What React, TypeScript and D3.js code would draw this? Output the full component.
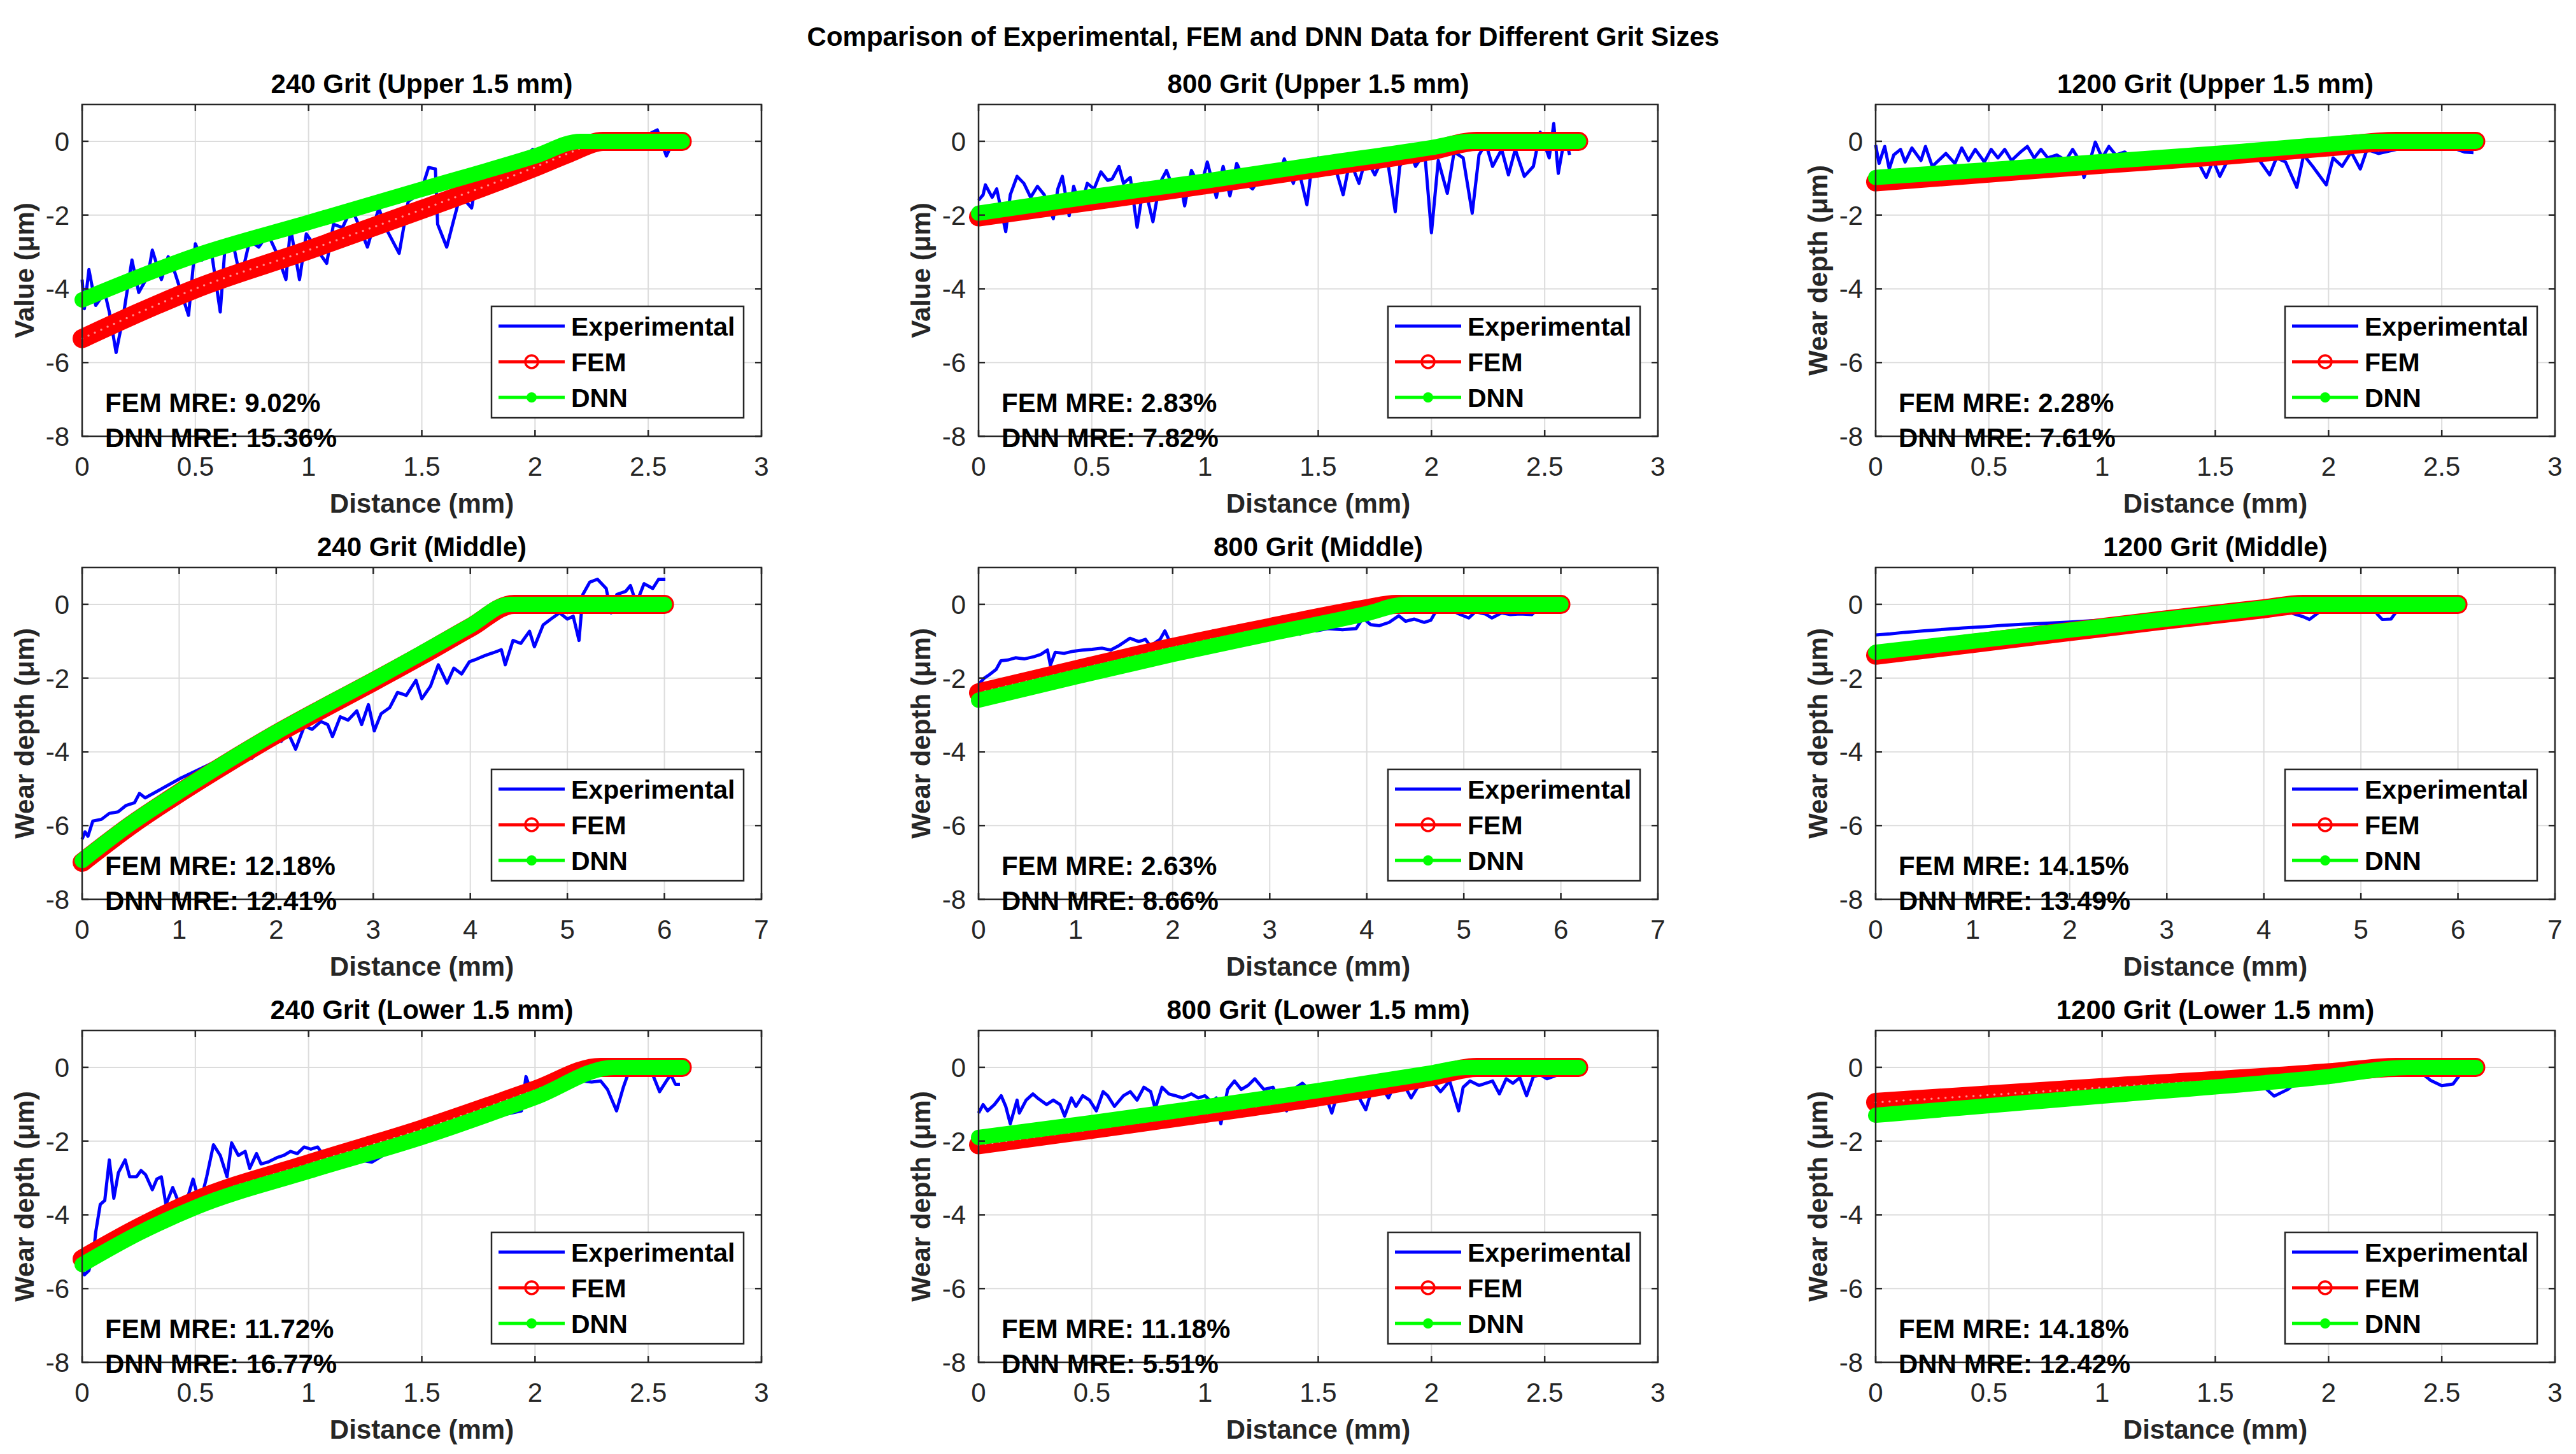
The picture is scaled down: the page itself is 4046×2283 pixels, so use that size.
import * as d3 from 'd3'

type Pt = [number, number]

const FIG_TITLE = 'Comparison of Experimental, FEM and DNN Data for Different Grit Sizes'

const panelTitles = [
  '240 Grit (Upper 1.5 mm)', '800 Grit (Upper 1.5 mm)', '1200 Grit (Upper 1.5 mm)',
  '240 Grit (Middle)', '800 Grit (Middle)', '1200 Grit (Middle)',
  '240 Grit (Lower 1.5 mm)', '800 Grit (Lower 1.5 mm)', '1200 Grit (Lower 1.5 mm)',
]
const yLabels = [
  'Value (μm)', 'Value (μm)', 'Wear depth (μm)',
  'Wear depth (μm)', 'Wear depth (μm)', 'Wear depth (μm)',
  'Wear depth (μm)', 'Wear depth (μm)', 'Wear depth (μm)',
]
const femMre = ['9.02', '2.83', '2.28', '12.18', '2.63', '14.15', '11.72', '11.18', '14.18']
const dnnMre = ['15.36', '7.82', '7.61', '12.41', '8.66', '13.49', '16.77', '5.51', '12.42']
const xMax = [3, 3, 3, 7, 7, 7, 3, 3, 3]
const xTicksShort = [0, 0.5, 1, 1.5, 2, 2.5, 3]
const xTicksLong = [0, 1, 2, 3, 4, 5, 6, 7]
const yTicks = [-8, -6, -4, -2, 0]
const legendNames = ['Experimental', 'FEM', 'DNN']

// ---- 240 grit, upper
const exp240U: Pt[] = [
  [0, -3.75], [0.01, -4.54], [0.03, -3.48], [0.06, -4.45], [0.1, -4.1], [0.12, -4.63], [0.15, -5.73],
  [0.18, -4.8], [0.22, -3.22], [0.25, -4.1], [0.29, -3.66], [0.31, -2.95], [0.35, -3.75], [0.38, -3.13],
  [0.41, -3.57], [0.47, -4.72], [0.5, -2.78], [0.53, -3.22], [0.57, -2.95], [0.61, -4.63], [0.63, -2.95],
  [0.67, -2.87], [0.7, -3.75], [0.74, -2.69], [0.78, -2.87], [0.82, -2.51], [0.86, -3.04], [0.9, -3.75],
  [0.92, -2.34], [0.96, -3.75], [0.99, -2.51], [1.03, -2.87], [1.08, -3.31], [1.11, -2.25], [1.15, -2.34],
  [1.19, -1.81], [1.22, -2.25], [1.26, -2.87], [1.31, -1.81], [1.34, -2.34], [1.4, -3.04], [1.44, -1.63],
  [1.48, -1.46], [1.51, -1.1], [1.53, -0.71], [1.56, -0.75], [1.57, -2.25], [1.61, -2.87], [1.64, -2.16],
  [1.67, -1.46], [1.72, -1.81], [1.74, -1.1], [1.78, -1.37], [1.83, -0.93], [1.88, -0.75], [1.93, -0.57],
  [1.99, -0.22], [2.04, -0.31], [2.08, -0.13], [2.16, -0.22], [2.23, -0.18], [2.3, -0.09], [2.37, -0.04],
  [2.45, 0.04], [2.51, 0.22], [2.54, 0.31], [2.58, -0.4], [2.6, -0.13], [2.64, -0.04],
]
const fem240U: Pt[] = [[0, -5.35], [0.25, -4.65], [0.5, -4.0], [1, -2.95], [1.5, -1.85], [2, -0.7], [2.15, -0.32], [2.3, 0], [2.65, 0]]
const dnn240U: Pt[] = [[0, -4.3], [0.5, -3.1], [1, -2.2], [1.5, -1.3], [2, -0.4], [2.2, 0], [2.65, 0]]

// ---- 800 grit, upper
const exp800U: Pt[] = [
  [0, -1.6], [0.02, -1.45], [0.03, -1.18], [0.06, -1.52], [0.08, -1.29], [0.12, -2.45], [0.14, -1.45],
  [0.17, -0.95], [0.2, -1.14], [0.23, -1.52], [0.26, -1.22], [0.29, -1.45], [0.33, -2.1], [0.35, -1.29],
  [0.37, -0.95], [0.4, -2.02], [0.42, -1.22], [0.45, -1.83], [0.48, -1.14], [0.51, -1.29], [0.54, -0.83],
  [0.57, -1.06], [0.59, -1.02], [0.62, -0.68], [0.64, -1.14], [0.67, -0.98], [0.7, -2.33], [0.73, -1.14],
  [0.77, -2.18], [0.8, -1.14], [0.83, -0.79], [0.86, -1.29], [0.89, -1.06], [0.91, -1.75], [0.94, -0.79],
  [0.98, -1.29], [1.01, -0.56], [1.05, -1.52], [1.08, -0.68], [1.11, -1.48], [1.14, -0.6], [1.18, -1.14],
  [1.21, -1.29], [1.25, -0.91], [1.28, -0.75], [1.32, -1.06], [1.35, -0.48], [1.39, -1.14], [1.41, -0.68],
  [1.45, -1.72], [1.47, -0.75], [1.5, -0.45], [1.54, -0.83], [1.57, -0.6], [1.61, -1.45], [1.64, -0.52],
  [1.68, -1.14], [1.71, -0.45], [1.75, -0.91], [1.78, -0.52], [1.81, -0.68], [1.84, -1.91], [1.86, -0.68],
  [1.9, -0.22], [1.93, -0.68], [1.97, -0.29], [2.0, -2.48], [2.03, -0.52], [2.07, -1.41], [2.1, -0.29],
  [2.14, -0.45], [2.18, -1.95], [2.21, -0.37], [2.24, -0.06], [2.27, -0.68], [2.31, -0.22], [2.34, -0.91],
  [2.37, -0.22], [2.41, -0.95], [2.45, -0.68], [2.48, 0.25], [2.52, -0.45], [2.54, 0.48], [2.56, -0.87],
  [2.59, 0.17], [2.61, -0.37],
]
const fem800U: Pt[] = [[0, -2.05], [0.5, -1.62], [1, -1.18], [1.5, -0.72], [2, -0.25], [2.2, 0], [2.65, 0]]
const dnn800U: Pt[] = [[0, -1.95], [0.5, -1.5], [1, -1.08], [1.5, -0.62], [2, -0.17], [2.17, 0], [2.65, 0]]

// ---- 1200 grit, upper
const exp1200U: Pt[] = [
  [0, -0.1], [0.015, -0.6], [0.04, -0.14], [0.06, -0.75], [0.08, -0.37], [0.11, -0.22], [0.13, -0.56],
  [0.16, -0.18], [0.2, -0.52], [0.22, -0.14], [0.25, -0.68], [0.29, -0.45], [0.31, -0.33], [0.35, -0.6],
  [0.38, -0.18], [0.41, -0.52], [0.44, -0.22], [0.48, -0.56], [0.51, -0.22], [0.54, -0.45], [0.57, -0.22],
  [0.6, -0.52], [0.64, -0.29], [0.67, -0.14], [0.7, -0.45], [0.73, -0.22], [0.76, -0.45], [0.8, -0.37],
  [0.84, -0.52], [0.87, -0.22], [0.9, -0.52], [0.92, -0.98], [0.95, -0.45], [0.97, -0.02], [1.0, -0.45],
  [1.03, -0.14], [1.06, -0.37], [1.1, -0.29], [1.14, -0.52], [1.18, -0.37], [1.24, -0.72], [1.29, -0.52],
  [1.35, -0.64], [1.42, -0.52], [1.46, -0.98], [1.49, -0.52], [1.52, -0.95], [1.56, -0.45], [1.61, -0.37],
  [1.66, -0.22], [1.7, -0.56], [1.74, -0.91], [1.77, -0.45], [1.81, -0.56], [1.86, -1.25], [1.89, -0.37],
  [1.93, -0.68], [1.99, -1.18], [2.02, -0.45], [2.06, -0.68], [2.1, -0.29], [2.14, -0.75], [2.17, -0.22],
  [2.22, -0.33], [2.3, -0.22], [2.38, -0.18], [2.48, -0.22], [2.55, -0.18], [2.6, -0.29], [2.64, -0.31],
]
const fem1200U: Pt[] = [[0, -1.1], [0.5, -0.86], [1, -0.62], [1.5, -0.4], [2, -0.15], [2.3, 0], [2.65, 0]]
const dnn1200U: Pt[] = [[0, -0.98], [0.5, -0.77], [1, -0.55], [1.5, -0.33], [2, -0.08], [2.2, 0], [2.65, 0]]

// ---- 240 grit, middle
const exp240M: Pt[] = [
  [0, -6.37], [0.03, -6.17], [0.06, -6.29], [0.11, -5.88], [0.2, -5.83], [0.28, -5.67], [0.37, -5.63],
  [0.45, -5.46], [0.54, -5.38], [0.59, -5.13], [0.65, -5.25], [1.02, -4.71], [1.41, -4.22], [1.53, -4.3],
  [1.64, -4.09], [1.75, -4.17], [1.85, -3.88], [1.95, -3.63], [2.05, -3.72], [2.12, -3.47], [2.2, -3.93],
  [2.29, -3.3], [2.37, -3.39], [2.46, -3.18], [2.53, -3.26], [2.58, -3.59], [2.66, -3.05], [2.74, -3.14],
  [2.83, -2.89], [2.88, -3.26], [2.95, -2.72], [3.01, -3.43], [3.08, -2.97], [3.17, -2.8], [3.25, -2.39],
  [3.34, -2.47], [3.44, -2.06], [3.5, -2.56], [3.59, -2.22], [3.67, -1.64], [3.76, -2.14], [3.83, -1.73],
  [3.91, -1.89], [3.99, -1.56], [4.07, -1.48], [4.15, -1.39], [4.24, -1.31], [4.32, -1.23], [4.36, -1.64],
  [4.44, -0.98], [4.52, -1.06], [4.61, -0.73], [4.66, -1.15], [4.75, -0.56], [4.83, -0.4], [4.92, -0.23],
  [5.0, -0.4], [5.06, -0.32], [5.12, -0.98], [5.16, 0.27], [5.23, 0.6], [5.31, 0.68], [5.4, 0.43],
  [5.45, -0.23], [5.51, 0.27], [5.6, 0.35], [5.65, 0.51], [5.71, 0.02], [5.79, 0.56], [5.88, 0.43],
  [5.94, 0.68], [6.01, 0.68],
]
const fem240M: Pt[] = [[0, -7.0], [0.5, -6.0], [1, -5.12], [1.5, -4.3], [2, -3.52], [2.5, -2.8], [3, -2.1], [3.5, -1.38], [4, -0.63], [4.45, 0], [6, 0]]
const dnn240M: Pt[] = [[0, -6.95], [0.5, -5.95], [1, -5.08], [1.5, -4.25], [2, -3.47], [2.5, -2.75], [3, -2.05], [3.5, -1.32], [4, -0.58], [4.4, 0], [6, 0]]

// ---- 800 grit, middle
const exp800M: Pt[] = [
  [0, -2.17], [0.06, -2.0], [0.11, -1.91], [0.18, -1.77], [0.23, -1.53], [0.3, -1.51], [0.38, -1.45],
  [0.47, -1.48], [0.57, -1.42], [0.64, -1.36], [0.71, -1.24], [0.74, -1.65], [0.79, -1.3], [0.88, -1.33],
  [0.98, -1.27], [1.07, -1.24], [1.17, -1.22], [1.27, -1.19], [1.36, -1.24], [1.44, -1.13], [1.56, -0.92],
  [1.65, -1.01], [1.72, -0.95], [1.77, -1.13], [1.87, -0.95], [1.92, -0.72], [1.97, -1.01], [2.06, -0.95],
  [2.25, -0.87], [2.42, -0.72], [2.8, -0.8], [3.12, -0.72], [3.31, -0.81], [3.41, -0.6], [3.48, -0.72],
  [3.6, -0.66], [3.75, -0.69], [3.89, -0.66], [3.96, -0.37], [4.04, -0.55], [4.13, -0.58], [4.23, -0.49],
  [4.33, -0.31], [4.4, -0.46], [4.49, -0.4], [4.59, -0.49], [4.66, -0.43], [4.71, -0.2], [4.81, -0.2],
  [4.88, -0.17], [4.95, -0.26], [5.05, -0.37], [5.12, -0.2], [5.22, -0.26], [5.29, -0.37], [5.39, -0.23],
  [5.48, -0.28], [5.58, -0.26], [5.7, -0.28], [5.72, -0.23],
]
const fem800M: Pt[] = [[0, -2.4], [1, -1.78], [2, -1.17], [3, -0.63], [4, -0.12], [4.3, 0], [6, 0]]
const dnn800M: Pt[] = [[0, -2.6], [1, -1.97], [2, -1.36], [3, -0.8], [4, -0.25], [4.4, 0], [6, 0]]

// ---- 1200 grit, middle
const exp1200M: Pt[] = [
  [0, -0.83], [0.15, -0.8], [0.3, -0.76], [0.5, -0.72], [0.7, -0.68], [0.9, -0.64], [1.1, -0.61],
  [1.3, -0.57], [1.5, -0.54], [1.7, -0.52], [2, -0.48], [2.5, -0.4], [3, -0.32], [3.5, -0.22],
  [4, -0.12], [4.2, -0.1], [4.3, -0.25], [4.4, -0.33], [4.47, -0.41], [4.56, -0.23], [4.62, -0.05],
  [4.8, -0.02], [5.0, -0.01], [5.12, -0.05], [5.17, -0.27], [5.22, -0.41], [5.31, -0.4], [5.36, -0.22],
  [5.42, -0.03], [5.6, -0.02], [5.8, -0.01], [6.0, 0],
]
const fem1200M: Pt[] = [[0, -1.38], [1, -1.06], [2, -0.74], [3, -0.42], [4, -0.12], [4.4, 0], [6, 0]]
const dnn1200M: Pt[] = [[0, -1.3], [1, -1.0], [2, -0.7], [3, -0.4], [4, -0.1], [4.35, 0], [6, 0]]

// ---- 240 grit, lower
const exp240L: Pt[] = [
  [0, -5.4], [0.01, -5.63], [0.03, -5.51], [0.05, -5.05], [0.06, -4.47], [0.08, -3.72], [0.1, -3.61],
  [0.12, -2.51], [0.14, -3.55], [0.16, -2.86], [0.19, -2.51], [0.21, -2.97], [0.24, -2.97], [0.26, -2.8],
  [0.28, -2.91], [0.31, -3.32], [0.33, -3.03], [0.35, -2.97], [0.37, -3.72], [0.4, -3.26], [0.43, -3.72],
  [0.46, -3.66], [0.49, -3.03], [0.52, -3.72], [0.55, -2.97], [0.58, -2.1], [0.61, -2.39], [0.64, -2.97],
  [0.66, -2.05], [0.69, -2.39], [0.72, -2.28], [0.74, -2.74], [0.77, -2.34], [0.79, -2.62], [0.82, -2.57],
  [0.86, -2.45], [0.89, -2.39], [0.92, -2.28], [0.95, -2.34], [0.98, -2.16], [1.01, -2.22], [1.04, -2.16],
  [1.06, -2.34], [1.28, -2.57], [1.46, -1.9], [1.7, -1.5], [1.94, -1.18], [1.96, -0.25], [1.98, -0.6],
  [2.09, -0.72], [2.14, -0.43], [2.21, -0.37], [2.25, -0.4], [2.29, -0.37], [2.32, -0.6], [2.36, -1.18],
  [2.39, -0.54], [2.42, -0.02], [2.47, -0.08], [2.52, -0.2], [2.55, -0.66], [2.58, -0.37], [2.6, -0.2],
  [2.62, -0.46], [2.64, -0.46],
]
const fem240L: Pt[] = [[0, -5.2], [0.25, -4.35], [0.5, -3.62], [1, -2.62], [1.5, -1.68], [2, -0.62], [2.29, 0], [2.65, 0]]
const dnn240L: Pt[] = [[0, -5.35], [0.25, -4.5], [0.5, -3.8], [1, -2.82], [1.5, -1.9], [2, -0.82], [2.35, 0], [2.65, 0]]

// ---- 800 grit, lower
const exp800L: Pt[] = [
  [0, -1.24], [0.02, -1.01], [0.04, -1.18], [0.07, -1.01], [0.1, -0.77], [0.12, -1.06], [0.14, -1.53],
  [0.17, -0.89], [0.18, -1.24], [0.21, -0.89], [0.24, -0.72], [0.26, -0.83], [0.3, -1.01], [0.33, -0.89],
  [0.36, -1.01], [0.38, -1.32], [0.41, -0.83], [0.43, -1.06], [0.46, -0.77], [0.49, -0.89], [0.52, -1.18],
  [0.55, -0.66], [0.57, -0.77], [0.6, -1.06], [0.64, -0.77], [0.67, -0.66], [0.7, -0.89], [0.73, -0.54],
  [0.76, -0.66], [0.78, -1.12], [0.81, -0.54], [0.84, -0.72], [0.87, -0.77], [0.9, -0.83], [0.94, -0.72],
  [0.97, -0.83], [1.0, -0.77], [1.03, -0.95], [1.05, -0.83], [1.07, -1.53], [1.1, -0.6], [1.13, -0.37],
  [1.16, -0.6], [1.19, -0.49], [1.22, -0.31], [1.26, -0.6], [1.3, -0.54], [1.33, -0.95], [1.36, -1.18],
  [1.39, -0.6], [1.43, -0.43], [1.46, -0.6], [1.5, -0.54], [1.53, -0.72], [1.56, -1.24], [1.59, -0.6],
  [1.63, -0.77], [1.66, -0.6], [1.71, -1.15], [1.74, -0.54], [1.77, -0.43], [1.81, -0.83], [1.84, -0.43],
  [1.87, -0.37], [1.91, -0.83], [1.95, -0.43], [1.98, -0.37], [2.01, -0.43], [2.04, -0.66], [2.08, -0.37],
  [2.12, -1.18], [2.14, -0.54], [2.17, -0.37], [2.21, -0.49], [2.24, -0.43], [2.27, -0.37], [2.3, -0.72],
  [2.33, -0.31], [2.36, -0.43], [2.39, -0.28], [2.42, -0.77], [2.45, -0.25], [2.48, -0.2], [2.51, -0.31],
  [2.56, -0.2], [2.6, -0.08],
]
const fem800L: Pt[] = [[0, -2.1], [0.5, -1.68], [1, -1.25], [1.5, -0.8], [2, -0.25], [2.2, 0], [2.65, 0]]
const dnn800L: Pt[] = [[0, -1.9], [0.5, -1.5], [1, -1.07], [1.5, -0.63], [2, -0.15], [2.15, 0], [2.65, 0]]

// ---- 1200 grit, lower
const exp1200L: Pt[] = [
  [0, -0.95], [0.2, -0.85], [0.5, -0.7], [0.8, -0.6], [1.0, -0.5], [1.2, -0.42], [1.4, -0.35],
  [1.6, -0.3], [1.7, -0.45], [1.76, -0.78], [1.82, -0.6], [1.88, -0.3], [2.0, -0.15], [2.2, -0.08],
  [2.3, -0.05], [2.4, -0.1], [2.45, -0.35], [2.5, -0.5], [2.55, -0.45], [2.58, -0.2], [2.62, -0.05],
  [2.65, -0.02],
]
const fem1200L: Pt[] = [[0, -0.95], [1, -0.55], [2, -0.15], [2.3, 0], [2.65, 0]]
const dnn1200L: Pt[] = [[0, -1.3], [1, -0.78], [2, -0.25], [2.35, 0], [2.65, 0]]

const expSeries = [exp240U, exp800U, exp1200U, exp240M, exp800M, exp1200M, exp240L, exp800L, exp1200L]
const femSeries = [fem240U, fem800U, fem1200U, fem240M, fem800M, fem1200M, fem240L, fem800L, fem1200L]
const dnnSeries = [dnn240U, dnn800U, dnn1200U, dnn240M, dnn800M, dnn1200M, dnn240L, dnn800L, dnn1200L]

// layout (pixels)
const W = 4046
const H = 2283
const colLeft = [129, 1537, 2946]
const rowTop = [164, 891, 1618]
const AW = 1067
const AH = 521
const FONT = '"Liberation Sans", Arial, Helvetica, sans-serif'
const AXIS = '#262626'

function Panel({ i }: { i: number }) {
  const left = colLeft[i % 3]
  const top = rowTop[Math.floor(i / 3)]
  const right = left + AW
  const bottom = top + AH
  const x = d3.scaleLinear().domain([0, xMax[i]]).range([left, right])
  const y = d3.scaleLinear().domain([-8, 1]).range([bottom, top])
  const xTicks = xMax[i] === 3 ? xTicksShort : xTicksLong
  const line = d3.line<Pt>().x((d) => x(d[0])).y((d) => y(d[1]))
  const smooth = d3.line<Pt>().x((d) => x(d[0])).y((d) => y(d[1])).curve(d3.curveMonotoneX)

  const lgW = 396
  const lgH = 175
  const lgX = right - 28 - lgW
  const lgY = bottom - 29 - lgH
  const rows = [31, 87, 143]

  return (
    <g>
      {/* grid */}
      {xTicks.map((t) => (
        <line key={'gx' + t} x1={x(t)} x2={x(t)} y1={top} y2={bottom} stroke="#dcdcdc" strokeWidth={2} />
      ))}
      {yTicks.concat([1]).map((t) => (
        <line key={'gy' + t} x1={left} x2={right} y1={y(t)} y2={y(t)} stroke="#dcdcdc" strokeWidth={2} />
      ))}

      {/* series */}
      <path d={line(expSeries[i]) || ''} fill="none" stroke="#0000ff" strokeWidth={5} strokeLinejoin="round" />
      <path d={smooth(femSeries[i]) || ''} fill="none" stroke="#ff0000" strokeWidth={30} strokeLinecap="round" strokeLinejoin="round" />
      <path d={smooth(femSeries[i]) || ''} fill="none" stroke="#ffffff" strokeOpacity={0.55} strokeWidth={3.5}
        strokeDasharray="0 11" strokeLinecap="round" />
      <path d={smooth(dnnSeries[i]) || ''} fill="none" stroke="#00ff00" strokeWidth={24} strokeLinecap="round" strokeLinejoin="round" />

      {/* axes box + ticks */}
      <rect x={left} y={top} width={AW} height={AH} fill="none" stroke={AXIS} strokeWidth={2.5} />
      {xTicks.map((t) => (
        <g key={'tx' + t}>
          <line x1={x(t)} x2={x(t)} y1={bottom} y2={bottom - 10} stroke={AXIS} strokeWidth={2.5} />
          <line x1={x(t)} x2={x(t)} y1={top} y2={top + 10} stroke={AXIS} strokeWidth={2.5} />
          <text x={x(t)} y={bottom + 62} textAnchor="middle" fontSize={42} fill={AXIS}>{String(t)}</text>
        </g>
      ))}
      {yTicks.map((t) => (
        <g key={'ty' + t}>
          <line x1={left} x2={left + 10} y1={y(t)} y2={y(t)} stroke={AXIS} strokeWidth={2.5} />
          <line x1={right} x2={right - 10} y1={y(t)} y2={y(t)} stroke={AXIS} strokeWidth={2.5} />
          <text x={left - 20} y={y(t) + 15} textAnchor="end" fontSize={42} fill={AXIS}>{String(t)}</text>
        </g>
      ))}

      {/* labels */}
      <text x={(left + right) / 2} y={top - 18} textAnchor="middle" fontSize={42} fontWeight="bold" fill="#000">
        {panelTitles[i]}
      </text>
      <text x={(left + right) / 2} y={bottom + 120} textAnchor="middle" fontSize={42} fontWeight="bold" fill={AXIS}>
        Distance (mm)
      </text>
      <text transform={`translate(${left - 76},${(top + bottom) / 2}) rotate(-90)`} textAnchor="middle"
        fontSize={42} fontWeight="bold" fill={AXIS}>
        {yLabels[i]}
      </text>

      {/* legend */}
      <rect x={lgX} y={lgY} width={lgW} height={lgH} fill="#fff" stroke={AXIS} strokeWidth={2.5} />
      <line x1={lgX + 11} x2={lgX + 115} y1={lgY + rows[0]} y2={lgY + rows[0]} stroke="#0000ff" strokeWidth={5} />
      <line x1={lgX + 11} x2={lgX + 115} y1={lgY + rows[1]} y2={lgY + rows[1]} stroke="#ff0000" strokeWidth={5} />
      <circle cx={lgX + 63} cy={lgY + rows[1]} r={10} fill="none" stroke="#ff0000" strokeWidth={3.5} />
      <line x1={lgX + 11} x2={lgX + 115} y1={lgY + rows[2]} y2={lgY + rows[2]} stroke="#00ff00" strokeWidth={5} />
      <circle cx={lgX + 63} cy={lgY + rows[2]} r={8} fill="#00ff00" />
      {legendNames.map((n, k) => (
        <text key={n} x={lgX + 125} y={lgY + rows[k] + 15} fontSize={41} fontWeight="bold" fill="#000">{n}</text>
      ))}

      {/* MRE annotations */}
      <text x={left + 36} y={bottom - 38} fontSize={42} fontWeight="bold" fill="#000">{`FEM MRE: ${femMre[i]}%`}</text>
      <text x={left + 36} y={bottom + 17} fontSize={42} fontWeight="bold" fill="#000">{`DNN MRE: ${dnnMre[i]}%`}</text>
    </g>
  )
}

export default function App() {
  return (
    <svg width={W} height={H} viewBox={`0 0 ${W} ${H}`}
      style={{ position: 'absolute', left: 0, top: 0, background: '#fff', fontFamily: FONT }}>
      <rect width={W} height={H} fill="#fff" />
      <text x={1984} y={72} textAnchor="middle" fontSize={42} fontWeight="bold" fill="#000">{FIG_TITLE}</text>
      {d3.range(9).map((i) => <Panel key={i} i={i} />)}
    </svg>
  )
}
